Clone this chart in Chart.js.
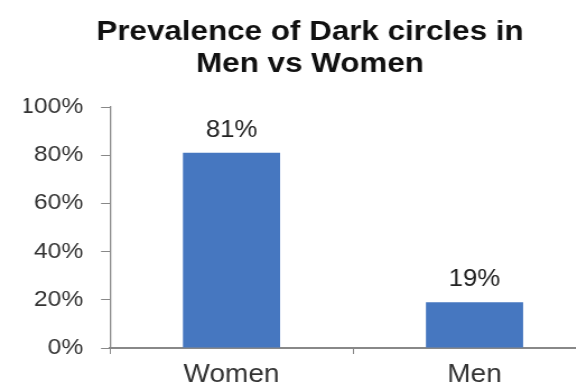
<!DOCTYPE html>
<html>
<head>
<meta charset="utf-8">
<title>Prevalence of Dark circles in Men vs Women</title>
<script src="https://cdn.jsdelivr.net/npm/chart.js@4/dist/chart.umd.min.js"></script>
<style>
    html, body { margin: 0; padding: 0; background: #fff; overflow: hidden; width: 576px; height: 388px; }
    /* 元画像は横に少し引き伸ばされ、右端が切れているので canvas を CSS で拡大して再現 */
    #chart { display: block; width: 596px !important; height: 388px !important; }
</style>
</head>
<body>
<canvas id="chart" width="532" height="388" style="width:596px;height:388px"></canvas>
<script>
    // データ
    const categories = ['Women', 'Men'];
    const values = [81, 19];
    const yTickValues = [0, 20, 40, 60, 80, 100];
    const titleLines = ['Prevalence of Dark circles in', 'Men vs Women'];

    const FONT = '"Liberation Sans", Arial, sans-serif';
    const AXIS_GRAY = '#888888';

    /**
     * 棒の上に値ラベルを描画
     */
    const valueLabels = {
        id: 'valueLabels',
        afterDatasetsDraw(chart) {
            const ctx = chart.ctx;
            const meta = chart.getDatasetMeta(0);
            ctx.save();
            ctx.font = '23px ' + FONT;
            ctx.fillStyle = '#222';
            ctx.textAlign = 'center';
            ctx.textBaseline = 'alphabetic';
            meta.data.forEach((bar, i) => {
                ctx.fillText(values[i] + '%', bar.x, bar.y - 16);
            });
            ctx.restore();
        }
    };

    const ctx = document.getElementById('chart').getContext('2d');
    new Chart(ctx, {
        type: 'bar',
        data: {
            labels: categories,
            datasets: [{
                data: values,
                backgroundColor: '#4677c0',
                borderWidth: 0,
                categoryPercentage: 1,
                barPercentage: 0.4
            }]
        },
        options: {
            responsive: false,
            devicePixelRatio: 1,
            animation: false,
            layout: {
                padding: { left: 21.4, right: 0, top: 0, bottom: 0 }
            },
            scales: {
                x: {
                    afterFit: axis => {
                        axis.height = 40;
                    },
                    grid: {
                        drawOnChartArea: false,
                        color: AXIS_GRAY,
                        tickLength: 6
                    },
                    border: { color: AXIS_GRAY, width: 2 },
                    ticks: {
                        padding: 6,
                        color: '#333',
                        font: { family: FONT, size: 25 }
                    }
                },
                y: {
                    min: 0,
                    max: 100,
                    afterBuildTicks: axis => {
                        axis.ticks = yTickValues.map(v => ({ value: v }));
                    },
                    afterFit: axis => {
                        axis.width = 76.8;
                    },
                    grid: {
                        drawOnChartArea: false,
                        color: AXIS_GRAY,
                        tickLength: 8
                    },
                    border: { color: AXIS_GRAY, width: 1.3 },
                    ticks: {
                        padding: 16,
                        color: '#333',
                        font: { family: FONT, size: 22 },
                        callback: value => value + '%'
                    }
                }
            },
            plugins: {
                legend: { display: false },
                tooltip: { enabled: false },
                title: {
                    display: true,
                    text: titleLines,
                    color: '#111',
                    font: { family: FONT, size: 28, weight: 'bold', lineHeight: 32 / 28 },
                    padding: { top: 16, bottom: 27 }
                }
            }
        },
        plugins: [valueLabels]
    });
</script>
</body>
</html>
